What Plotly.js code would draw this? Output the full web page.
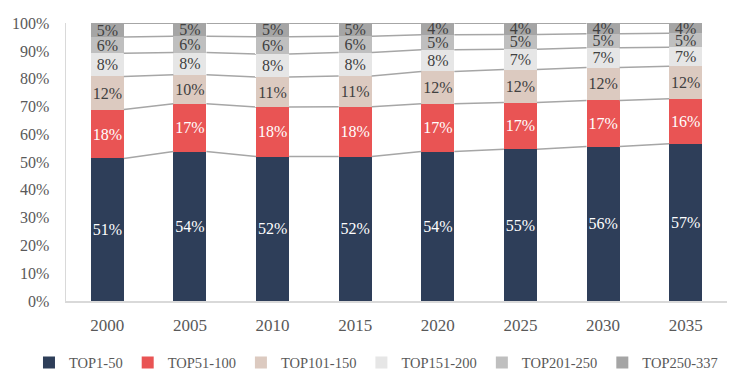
<!DOCTYPE html>
<html>
<head>
<meta charset="utf-8">
<script src="https://cdn.plot.ly/plotly-3.0.1.min.js"></script>
<style>html,body{margin:0;padding:0;background:#fff;}#chart{width:750px;height:390px;}</style>
</head>
<body>
<div id="chart"></div>
<script>
const years = ['2000','2005','2010','2015','2020','2025','2030','2035'];
const seriesNames = ['TOP1-50','TOP51-100','TOP101-150','TOP151-200','TOP201-250','TOP250-337'];
const top1_50    = [51.3, 53.8, 52.0, 52.0, 53.8, 54.6, 55.6, 56.6];
const top51_100  = [17.6, 17.2, 17.8, 17.9, 17.2, 16.8, 16.6, 16.2];
const top101_150 = [11.9, 10.4, 10.8, 11.1, 11.6, 11.9, 11.8, 11.7];
const top151_200 = [8.4, 8.0, 8.3, 8.4, 7.8, 7.3, 7.1, 6.8];
const top201_250 = [5.8, 5.9, 6.2, 5.9, 5.4, 5.3, 5.1, 5.1];
const top250_337 = [5.0, 4.7, 4.9, 4.7, 4.2, 4.1, 3.8, 3.6];
const yTicks = [0,10,20,30,40,50,60,70,80,90,100];

const series = [top1_50, top51_100, top101_150, top151_200, top201_250, top250_337];
const colors = ['#2E3E59','#E95454','#DCCAC0','#E6E6E6','#BFBFBF','#A5A5A5'];
const textColors = ['#FFFFFF','#FFFFFF','#404040','#404040','#404040','#404040'];
const FONT = '"Liberation Serif", "Times New Roman", serif';
const BW = 0.4;
const xs = years.map((_, i) => i);

const traces = [];
series.forEach((vals, s) => {
  traces.push({
    type: 'bar', name: seriesNames[s], x: xs, y: vals,
    marker: {color: colors[s], line: {width: 0}},
    width: BW,
    text: vals.map(v => Math.round(v) + '%'),
    texttemplate: '%{text}',
    textposition: 'inside', insidetextanchor: 'middle', textangle: 0,
    constraintext: 'none', cliponaxis: false,
    textfont: {family: FONT, size: 16, color: textColors[s]},
    hoverinfo: 'skip'
  });
});

// connector lines between bars at cumulative tops
const cum = [];
series.forEach((vals, s) => {
  cum.push(vals.map((v, i) => v + (s > 0 ? cum[s-1][i] : 0)));
});
cum.forEach(level => {
  const lx = [], ly = [];
  for (let i = 0; i < xs.length - 1; i++) {
    lx.push(xs[i] + BW/2, xs[i+1] - BW/2, null);
    ly.push(level[i], level[i+1], null);
  }
  traces.push({
    type: 'scatter', mode: 'lines', x: lx, y: ly, showlegend: false,
    line: {color: '#A6A6A6', width: 1.5}, hoverinfo: 'skip', cliponaxis: false
  });
});

const layout = {
  width: 750, height: 390,
  margin: {l: 66, r: 23, t: 23, b: 88},
  paper_bgcolor: '#fff', plot_bgcolor: '#fff',
  barmode: 'stack',
  showlegend: true,
  font: {family: FONT, color: '#595959', size: 15},
  xaxis: {
    range: [-0.5, 7.5], tickvals: xs, ticktext: years,
    showgrid: false, zeroline: false, showline: true, linecolor: '#D9D9D9', linewidth: 1.5,
    ticks: '', ticklabelstandoff: 8,
    tickfont: {family: FONT, size: 17, color: '#595959'}, fixedrange: true
  },
  yaxis: {
    range: [0, 100.05], tickvals: yTicks, ticktext: yTicks.map(v => v + '%'),
    showgrid: false, zeroline: false, showline: true, linecolor: '#D9D9D9', linewidth: 1.5,
    ticks: '', ticklabelstandoff: 12,
    tickfont: {family: FONT, size: 16, color: '#595959'}, fixedrange: true
  },
  legend: {
    orientation: 'h', x: -0.056, xanchor: 'left', y: -0.16, yanchor: 'top',
    font: {family: FONT, size: 14.5, color: '#595959'},
    traceorder: 'normal', itemwidth: 30
  }
};

Plotly.newPlot('chart', traces, layout, {displayModeBar: false, staticPlot: true});
</script>
</body>
</html>
